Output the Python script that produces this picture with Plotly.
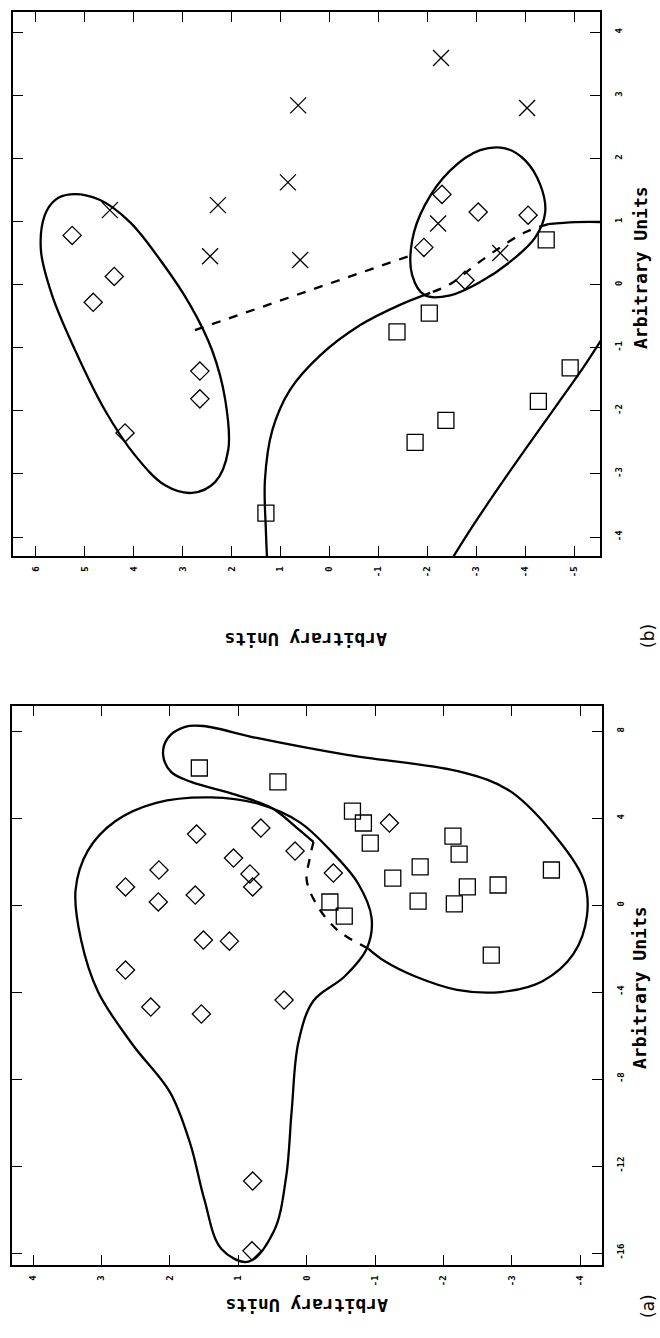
import plotly.graph_objects as go

W, H = 660, 1338

# ---------------- Panel (b) data (h = horizontal axis, v = vertical axis) ----------------
b_cross_h = [-2.28, 0.64, -4.04, 0.85, 2.28, 4.49, -2.22, 2.44, 0.60, -3.49]
b_cross_v = [3.59, 2.84, 2.80, 1.62, 1.26, 1.18, 0.97, 0.45, 0.39, 0.50]
b_diam_h = [5.26, 4.83, 4.40, 2.65, 2.65, 4.18, -2.30, -3.04, -4.06, -1.93, -2.77]
b_diam_v = [0.78, -0.28, 0.13, -1.37, -1.81, -2.35, 1.43, 1.15, 1.10, 0.59, 0.07]
b_sq_h = [-4.43, -1.38, -2.04, -4.92, -4.27, -2.38, -1.75, 1.30]
b_sq_v = [0.71, -0.75, -0.45, -1.32, -1.85, -2.15, -2.50, -3.62]

# contours panel (b)
b_left_h = [5.30, 4.69, 4.08, 3.46, 2.85, 2.40, 2.13, 2.07, 2.34, 2.81, 3.36, 3.98, 4.59, 5.20, 5.67, 5.90, 5.82, 5.61, 5.30]
b_left_v = [1.43, 1.34, 0.99, 0.39, -0.32, -1.04, -1.83, -2.62, -3.13, -3.30, -3.18, -2.70, -1.99, -1.04, -0.17, 0.55, 1.10, 1.34, 1.43]
b_small_h = [-1.69, -1.95, -2.47, -3.08, -3.59, -4.00, -4.31, -4.41, -4.20, -3.69, -3.08, -2.47, -1.95, -1.69, -1.69]
b_small_v = [0.70, 1.26, 1.81, 2.13, 2.16, 1.97, 1.58, 1.15, 0.74, 0.36, 0.04, -0.17, -0.17, 0.15, 0.70]
b_big_top_h = [-5.74, -5.02, -4.47]
b_big_top_v = [0.99, 0.99, 0.96]
b_big_dash_h = [-4.47, -4.00, -3.49, -2.98, -2.47, -2.06]
b_big_dash_v = [0.96, 0.83, 0.59, 0.31, 0.01, -0.13]
b_big_left_h = [-2.06, -1.44, -0.63, 0.19, 0.81, 1.17, 1.32, 1.30, 1.26]
b_big_left_v = [-0.13, -0.32, -0.64, -1.12, -1.67, -2.31, -3.10, -3.90, -4.60]
b_big_right_h = [-2.30, -2.95, -3.65, -4.70, -5.20, -5.70]
b_big_right_v = [-4.60, -3.80, -3.00, -1.85, -1.30, -0.70]
b_link_h = [2.75, -1.69]
b_link_v = [-0.72, 0.47]

# ---------------- Panel (a) data ----------------
a_sq_h = [1.57, 0.42, -0.67, -0.83, -0.93, -2.14, -2.23, -1.66, -1.26, -2.35, -2.80, -3.58, -0.34, -0.55, -1.63, -2.16, -2.70]
a_sq_v = [6.30, 5.66, 4.32, 3.77, 2.85, 3.17, 2.34, 1.75, 1.24, 0.83, 0.92, 1.61, 0.14, -0.51, 0.18, 0.05, -2.30]
a_diam_h = [1.61, 1.07, 0.67, 0.17, 0.83, 0.79, 2.16, 2.65, 2.17, 1.63, 1.51, 1.13, 2.65, 2.28, 1.54, 0.33, -0.39, -1.21, 0.79, 0.80]
a_diam_v = [3.26, 2.16, 3.54, 2.48, 1.43, 0.83, 1.61, 0.83, 0.14, 0.46, -1.61, -1.66, -2.99, -4.69, -5.01, -4.37, 1.47, 3.77, -12.69, -15.9]

a_dblob_h = [3.38, 3.20, 2.80, 2.20, 1.40, 0.70, 0.10, -0.35, -0.75, -0.95, -0.88, -0.55, -0.10, 0.12, 0.22, 0.30, 0.48, 0.85, 1.25, 1.50, 1.70, 2.00, 2.55, 3.05, 3.30, 3.38]
a_dblob_v = [0.69, 2.50, 3.85, 4.70, 4.95, 4.65, 3.80, 2.50, 1.00, -0.60, -2.00, -3.30, -4.40, -6.30, -9.50, -12.50, -15.00, -16.40, -15.80, -13.50, -11.00, -8.60, -6.40, -4.00, -1.60, 0.69]
a_sblob_h = [-0.10, 0.14, 0.51, 1.03, 1.69, 1.98, 2.10, 2.03, 1.79, 1.51, 0.73, -0.59, -2.27, -2.95, -3.55, -4.05, -4.10, -3.90, -3.45, -2.84, -2.20, -1.60, -1.15, -0.90]
a_sblob_v = [2.90, 3.54, 4.46, 5.06, 5.66, 6.11, 6.90, 7.68, 8.18, 8.23, 7.68, 6.90, 6.11, 5.29, 3.50, 1.18, -0.50, -2.26, -3.50, -4.00, -3.90, -3.30, -2.60, -2.00]
a_sdash_h = [-0.90, -0.45, -0.15, 0.00, -0.04, -0.10]
a_sdash_v = [-2.00, -1.15, 0.00, 1.15, 2.07, 2.90]

# ---------------- axes ticks ----------------
b_h_ticks = [6, 5, 4, 3, 2, 1, 0, -1, -2, -3, -4, -5]
b_v_ticks = [4, 3, 2, 1, 0, -1, -2, -3, -4]
a_h_ticks = [4, 3, 2, 1, 0, -1, -2, -3, -4]
a_v_ticks = [8, 4, 0, -4, -8, -12, -16]

fig = go.Figure()

def px2x(p):
    return p / W

def px2y(p):
    return 1 - p / H

LINE = dict(color="black", width=2.3)

def curve(h, v, xa, ya, dash=None, smooth=1.0):
    ln = dict(LINE)
    if dash:
        ln["dash"] = dash
    fig.add_trace(go.Scatter(x=h, y=v, mode="lines", line=dict(**ln, shape="spline", smoothing=smooth),
                             xaxis=xa, yaxis=ya, showlegend=False, hoverinfo="skip"))

def pts(h, v, symbol, size, xa, ya, lw=1.3):
    fig.add_trace(go.Scatter(x=h, y=v, mode="markers",
                             marker=dict(symbol=symbol, size=size, color="black",
                                         line=dict(color="black", width=lw)),
                             xaxis=xa, yaxis=ya, showlegend=False))

# panel b (top) -> x, y
curve(b_left_h, b_left_v, "x", "y")
curve(b_small_h, b_small_v, "x", "y")
curve(b_big_top_h, b_big_top_v, "x", "y")
curve(b_big_dash_h, b_big_dash_v, "x", "y", dash="dash")
curve(b_big_left_h, b_big_left_v, "x", "y")
curve(b_big_right_h, b_big_right_v, "x", "y")
curve(b_link_h, b_link_v, "x", "y", dash="dash")
pts(b_cross_h, b_cross_v, "x-thin-open", 16, "x", "y")
pts(b_diam_h, b_diam_v, "diamond-open", 14, "x", "y")
pts(b_sq_h, b_sq_v, "square-open", 16, "x", "y")

# panel a (bottom) -> x2, y2
curve(a_dblob_h, a_dblob_v, "x2", "y2")
curve(a_sblob_h, a_sblob_v, "x2", "y2")
curve(a_sdash_h, a_sdash_v, "x2", "y2", dash="dash")
pts(a_diam_h, a_diam_v, "diamond-open", 14, "x2", "y2")
pts(a_sq_h, a_sq_v, "square-open", 16, "x2", "y2")

TICKFONT = dict(family="DejaVu Sans Mono", size=9, color="black", weight="bold")
common = dict(showline=True, linecolor="black", linewidth=1.5, mirror="ticks",
              ticks="inside", ticklen=10, tickwidth=1.3, tickcolor="black",
              showgrid=False, zeroline=False, tickangle=-90, tickfont=TICKFONT)

fig.update_layout(
    width=W, height=H, margin=dict(l=0, r=0, t=0, b=0),
    paper_bgcolor="white", plot_bgcolor="white", showlegend=False,
    xaxis=dict(domain=[px2x(13), px2x(600)], range=[6.47, -5.53], anchor="y",
               tickvals=b_h_ticks, ticktext=[str(t) for t in b_h_ticks], ticklabelstandoff=5, **common),
    yaxis=dict(domain=[px2y(556), px2y(12)], range=[-4.30, 4.32], anchor="x", side="right",
               tickvals=b_v_ticks, ticktext=[str(t) for t in b_v_ticks], ticklabelstandoff=9, **common),
    xaxis2=dict(domain=[px2x(12), px2x(602)], range=[4.31, -4.32], anchor="y2",
                tickvals=a_h_ticks, ticktext=[str(t) for t in a_h_ticks], ticklabelstandoff=5, **common),
    yaxis2=dict(domain=[px2y(1265), px2y(706)], range=[-16.55, 9.15], anchor="x2", side="right",
                tickvals=a_v_ticks, ticktext=[str(t) for t in a_v_ticks], ticklabelstandoff=9, **common),
)

TITLEFONT = dict(family="DejaVu Sans Mono", size=18, color="black")
LBLFONT = dict(family="DejaVu Sans", size=17, color="black")
ann = [
    dict(text="<b>Arbitrary Units</b>", x=px2x(640), y=px2y(268), textangle=-90, font=TITLEFONT),
    dict(text="<b>Arbitrary Units</b>", x=px2x(306), y=px2y(640), textangle=180, font=TITLEFONT),
    dict(text="(b)", x=px2x(648), y=px2y(636), textangle=-90, font=LBLFONT),
    dict(text="<b>Arbitrary Units</b>", x=px2x(640), y=px2y(988), textangle=-90, font=TITLEFONT),
    dict(text="<b>Arbitrary Units</b>", x=px2x(307), y=px2y(1306), textangle=180, font=TITLEFONT),
    dict(text="(a)", x=px2x(648), y=px2y(1306), textangle=-90, font=LBLFONT),
]
for a in ann:
    fig.add_annotation(xref="paper", yref="paper", showarrow=False, xanchor="center", yanchor="middle", **a)

fig.write_html("out.html")
